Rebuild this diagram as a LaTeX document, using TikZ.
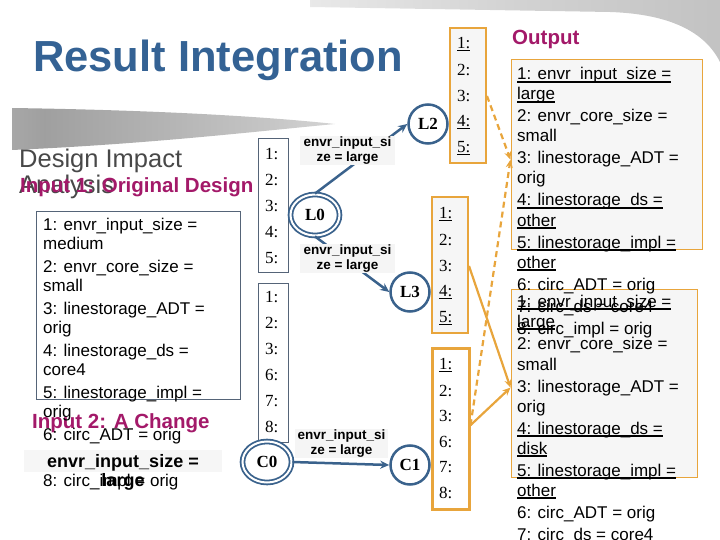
\documentclass[tikz,border=0pt]{standalone}
\usepackage{fontspec}
\setmainfont{Liberation Serif}
\setsansfont{Liberation Sans}
\usepackage{tikz}
\usetikzlibrary{shapes.geometric,arrows.meta,calc,positioning}
\definecolor{titleblue}{RGB}{52,98,148}
\definecolor{stateblue}{RGB}{58,98,140}
\definecolor{headpink}{RGB}{163,25,105}
\definecolor{darkgrey}{RGB}{72,72,72}
\definecolor{slate}{RGB}{85,100,120}
\definecolor{mergeorange}{RGB}{232,165,60}
\definecolor{paper}{RGB}{246,246,246}
\pgfdeclarehorizontalshading{swoosh}{100bp}{color(0bp)=(gray!38); color(30bp)=(gray!75); color(65bp)=(gray!45); color(100bp)=(gray!5)}
\pgfdeclarehorizontalshading{topband}{100bp}{color(0bp)=(white); color(50bp)=(gray!35); color(100bp)=(gray!60)}
\newcommand{\undl}[1]{\setbox0\hbox{#1}\rlap{\rule[-2.6pt]{\wd0}{1.3pt}}\box0}
\tikzset{
  slidetitle/.style = {anchor=base west, inner sep=0pt, text=titleblue, font=\sffamily\bfseries\fontsize{43.5}{50}\selectfont},
  heading/.style = {anchor=base west, inner sep=0pt, text=headpink, font=\sffamily\bfseries\fontsize{20.5}{24}\selectfont},
  subhead/.style = {anchor=base west, inner sep=0pt, text=darkgrey, font=\sffamily\fontsize{25.5}{30}\selectfont},
  listline/.style = {anchor=base west, inner sep=0pt, font=\sffamily\fontsize{17}{19}\selectfont},
  listbox/.style = {rectangle, draw=slate, line width=0.8pt, inner sep=0pt},
  outbox/.style = {rectangle, draw=mergeorange, line width=1pt, fill=paper, inner sep=0pt},
  numcol/.style = {rectangle, draw=slate, line width=0.9pt, fill=white, minimum width=30pt, inner sep=0pt},
  mergecol/.style = {rectangle, draw=mergeorange, line width=2pt, fill=paper, minimum width=36pt, inner sep=0pt},
  numlab/.style = {anchor=west, inner sep=0pt, font=\rmfamily\fontsize{17}{19}\selectfont},
  statenode/.style = {circle, draw=stateblue, line width=2.5pt, minimum size=39pt, inner sep=0pt, fill=white, font=\rmfamily\bfseries\fontsize{17}{19}\selectfont},
  initnode/.style = {ellipse, draw=stateblue, double=white, double distance=2pt, line width=1.8pt, minimum width=49pt, minimum height=41pt, inner sep=0pt, fill=white, font=\rmfamily\bfseries\fontsize{17}{19}\selectfont},
  edgelab/.style = {fill=gray!8, align=center, inner sep=1pt, minimum width=95pt, minimum height=28pt, font=\sffamily\bfseries\fontsize{13.5}{15}\selectfont},
  trans/.style = {draw=stateblue, line width=2.5pt, -{Stealth[length=9pt,width=8pt]}},
  merge/.style = {draw=mergeorange, line width=2.2pt, -{Stealth[length=8pt,width=7pt]}},
  mergedash/.style = {merge, dash pattern=on 6pt off 4pt}
}
\begin{document}
\begin{tikzpicture}[x=1pt,y=-1pt]
\useasboundingbox (0,0) rectangle (720,540);

% slide background
\shade[shading=topband] (310,0) -- (720,0) -- (720,62) .. controls (705,32) and (670,14) .. (610,12) -- (310,7) -- cycle;
\shade[shading=swoosh] (12,108) .. controls (150,110) and (260,116) .. (335,124) .. controls (260,131) and (150,144) .. (12,150) -- cycle;

\node[slidetitle] (title) at (33,72) {Result Integration};
\node[subhead] (dia1) at (19,168) {Design Impact};
\node[subhead] (dia2) at (19,194) {Analysis};
\node[heading] (in1) at (20,193) {Input 1: Original Design};
\node[heading] (in2) at (32,428) {Input 2: A Change};

% original design
\node[listbox, minimum width=204pt, minimum height=188pt] (origbox) at (138,305) {};
\foreach \y/\t [count=\k] in {
  230/{1: envr\_input\_size =}, 249/medium,
  272/{2: envr\_core\_size =}, 291/small,
  314/{3: linestorage\_ADT =}, 333/orig,
  356/{4: linestorage\_ds =}, 375/core4,
  398/{5: linestorage\_impl =}, 417/orig,
  440/{6: circ\_ADT = orig}, 463/{7: circ\_ds = core4}, 486/{8: circ\_impl = orig}}
  \node[listline] (orig\k) at (43,\y) {\t};

% the change
\node[fill=gray!7, minimum width=198pt, minimum height=22pt, inner sep=0pt] (changebox) at (123,461) {};
\node[anchor=base, inner sep=0pt, font=\sffamily\bfseries\fontsize{18}{20}\selectfont] (change1) at (123,467) {envr\_input\_size =};
\node[anchor=base, inner sep=0pt, font=\sffamily\bfseries\fontsize{18}{20}\selectfont] (change2) at (123,486) {large};

% impact columns
\node[numcol, minimum height=134pt] (lbox) at (273,205) {};
\foreach \t [count=\k] in {1:,2:,3:,4:,5:}
  \node[numlab] (ln\k) at (265,{128+26*\k}) {\t};
\node[numcol, minimum height=159pt] (cbox) at (273,362.5) {};
\foreach \t [count=\k] in {1:,2:,3:,6:,7:,8:}
  \node[numlab] (cn\k) at (265,{271+26*\k}) {\t};

% states
\node[initnode] (L0) at (315,215) {L0};
\node[statenode] (L2) at (428,124) {L2};
\node[statenode] (L3) at (410,292) {L3};
\node[initnode] (C0) at (267,462) {C0};
\node[statenode] (C1) at (410,465) {C1};

\draw[trans] (L0.north) -- (L2.west);
\draw[trans] (L0.south) -- (L3.west);
\draw[trans] (C0.east) -- (C1.west);
\node[edgelab] (lab02) at (347.5,150.5) {envr\_input\_si\\ze = large};
\node[edgelab] (lab03) at (347.5,258.5) {envr\_input\_si\\ze = large};
\node[edgelab, minimum width=93pt] (labc01) at (341.5,443.5) {envr\_input\_si\\ze = large};

% changed lines per state
\node[mergecol, minimum height=135pt] (l2box) at (468,95.5) {};
\foreach \t [count=\k] in {\undl{1:},2:,3:,\undl{4:},\undl{5:}}
  \node[numlab] (l2n\k) at (457,{18+26*\k}) {\t};
\node[mergecol, minimum height=136pt] (l3box) at (450,265) {};
\foreach \t [count=\k] in {\undl{1:},2:,3:,\undl{4:},\undl{5:}}
  \node[numlab] (l3n\k) at (439,{188+26*\k}) {\t};
\node[mergecol, minimum width=37pt, minimum height=161pt, line width=3pt, fill=white] (c1box) at (450.5,428.5) {};
\foreach \t [count=\k] in {\undl{1:},2:,3:,6:,7:,8:}
  \node[numlab] (c1n\k) at (439,{339.4+25.6*\k}) {\t};

% output
\node[heading] (outhead) at (512,45) {Output};
\node[outbox, minimum width=191pt, minimum height=189pt] (outbox1) at (606.5,154.5) {};
\node[outbox, minimum width=186pt, minimum height=188pt] (outbox2) at (604,383) {};
\foreach \y/\t [count=\k] in {
  80/{\undl{1: envr\_input\_size =}}, 100/{\undl{large}},
  122/{2: envr\_core\_size =}, 142/small,
  164/{3: linestorage\_ADT =}, 184/orig,
  206/{\undl{4: linestorage\_ds =}}, 226/{\undl{other}},
  248/{\undl{5: linestorage\_impl =}}, 268/{\undl{other}},
  290/{6: circ\_ADT = orig}, 312/{7: circ\_ds = core4}, 334/{8: circ\_impl = orig}}
  \node[listline] (outa\k) at (517,\y) {\t};
\foreach \y/\t [count=\k] in {
  307/{\undl{1: envr\_input\_size =}}, 327/{\undl{large}},
  349/{2: envr\_core\_size =}, 370/small,
  392/{3: linestorage\_ADT =}, 412/orig,
  434/{\undl{4: linestorage\_ds =}}, 454/{\undl{disk}},
  476/{\undl{5: linestorage\_impl =}}, 496/{\undl{other}},
  518/{6: circ\_ADT = orig}, 540/{7: circ\_ds = core4}}
  \node[listline] (outb\k) at (517,\y) {\t};

\draw[mergedash] (l2box.east |- l2n3) -- (outbox1.west |- outa5);
\draw[mergedash] ($(c1box.east |- c1n3)+(0,9)$) -- (outbox1.west |- outa5);
\draw[merge] (l3box.east |- l3n3) -- (outbox2.west |- outb5);
\draw[merge] ($(c1box.east |- c1n3)+(0,9)$) -- (outbox2.west |- outb5);
\end{tikzpicture}
\end{document}
